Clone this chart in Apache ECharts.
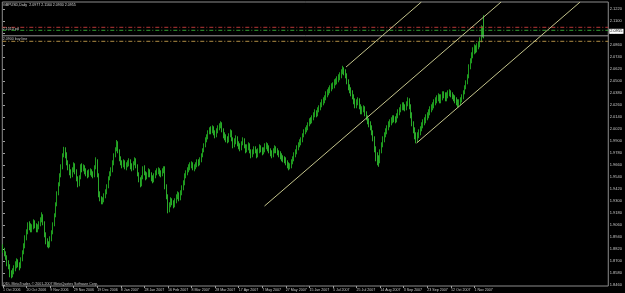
<!DOCTYPE html>
<html><head><meta charset="utf-8">
<script src="https://cdn.jsdelivr.net/npm/echarts@6/dist/echarts.min.js"></script>
<style>html,body{margin:0;padding:0;background:#000;}#c{width:625px;height:293px;}</style>
</head><body><div id="c"></div>
<script>
// ---- data ----
const symbolName = 'GBPUSD,Daily';
const copyrightText = 'ODL MetaTrader, \u00a9 2001-2007 MetaQuotes Software Corp.';
const startDate = [2006, 9, 1];   // 1 Oct 2006, Sunday bars included, Saturdays skipped
const futureBars = 89;            // empty shift area on the right
const firstOpen = 1.8840;
const closes = [
1.8810,1.8775,1.8740,1.8680,1.8655,1.8580,1.8560,1.8595,1.8620,1.8660,
1.8695,1.8670,1.8650,1.8720,1.8790,1.8850,1.8940,1.8990,1.9060,1.9050,
1.9020,1.9045,1.9090,1.9060,1.9015,1.9040,1.9080,1.9110,1.9150,1.9080,
1.8960,1.8900,1.8870,1.8855,1.8920,1.8990,1.9070,1.9160,1.9270,1.9380,
1.9470,1.9560,1.9640,1.9760,1.9820,1.9760,1.9680,1.9640,1.9590,1.9560,
1.9610,1.9660,1.9600,1.9530,1.9470,1.9540,1.9650,1.9620,1.9640,1.9600,
1.9580,1.9560,1.9590,1.9600,1.9570,1.9550,1.9640,1.9710,1.9560,1.9370,
1.9330,1.9290,1.9310,1.9360,1.9390,1.9450,1.9530,1.9570,1.9610,1.9680,
1.9760,1.9820,1.9880,1.9800,1.9720,1.9690,1.9660,1.9690,1.9640,1.9660,
1.9680,1.9700,1.9650,1.9630,1.9680,1.9710,1.9650,1.9570,1.9520,1.9470,
1.9540,1.9630,1.9580,1.9540,1.9560,1.9600,1.9570,1.9530,1.9510,1.9550,
1.9580,1.9600,1.9610,1.9580,1.9570,1.9600,1.9630,1.9440,1.9350,1.9220,
1.9260,1.9310,1.9290,1.9260,1.9300,1.9350,1.9370,1.9330,1.9380,1.9430,
1.9480,1.9560,1.9580,1.9610,1.9640,1.9660,1.9670,1.9630,1.9640,1.9660,
1.9690,1.9680,1.9710,1.9760,1.9810,1.9860,1.9910,1.9940,1.9990,2.0010,
2.0000,2.0030,1.9990,1.9960,2.0000,2.0030,2.0050,2.0070,2.0010,1.9960,
1.9940,1.9920,1.9910,1.9960,1.9990,1.9920,1.9860,1.9900,1.9930,1.9880,
1.9850,1.9830,1.9880,1.9910,1.9850,1.9810,1.9840,1.9860,1.9800,1.9760,
1.9790,1.9830,1.9800,1.9760,1.9800,1.9840,1.9820,1.9790,1.9810,1.9850,
1.9860,1.9830,1.9810,1.9780,1.9760,1.9800,1.9830,1.9810,1.9790,1.9770,
1.9750,1.9730,1.9720,1.9710,1.9690,1.9660,1.9640,1.9650,1.9690,1.9720,
1.9760,1.9790,1.9840,1.9860,1.9890,1.9910,1.9960,1.9990,2.0010,2.0030,
2.0070,2.0110,2.0100,2.0130,2.0160,2.0190,2.0170,2.0210,2.0230,2.0260,
2.0290,2.0310,2.0330,2.0370,2.0390,2.0410,2.0430,2.0450,2.0460,2.0490,
2.0500,2.0520,2.0540,2.0560,2.0590,2.0610,2.0600,2.0560,2.0500,2.0440,
2.0410,2.0380,2.0350,2.0300,2.0260,2.0290,2.0310,2.0250,2.0200,2.0220,
2.0230,2.0180,2.0140,2.0100,2.0070,2.0040,1.9990,1.9930,1.9820,1.9760,
1.9720,1.9700,1.9800,1.9860,1.9920,1.9960,2.0000,2.0030,2.0070,2.0090,
2.0110,2.0130,2.0120,2.0110,2.0150,2.0190,2.0210,2.0240,2.0260,2.0240,
2.0230,2.0270,2.0310,2.0250,2.0160,2.0080,2.0010,1.9960,1.9910,1.9960,
1.9990,2.0020,2.0060,2.0090,2.0110,2.0140,2.0160,2.0190,2.0220,2.0240,
2.0260,2.0290,2.0310,2.0330,2.0350,2.0310,2.0340,2.0370,2.0360,2.0330,
2.0360,2.0380,2.0390,2.0370,2.0350,2.0330,2.0310,2.0290,2.0270,2.0290,
2.0310,2.0340,2.0390,2.0440,2.0490,2.0550,2.0650,2.0700,2.0760,2.0800,
2.0830,2.0810,2.0850,2.0870,2.0900,2.1010,2.0977,2.0955];
const highs = [
1.8870,1.8835,1.8800,1.8760,1.8710,1.8670,1.8610,1.8630,1.8660,1.8700,
1.8730,1.8720,1.8690,1.8740,1.8810,1.8880,1.8960,1.9020,1.9090,1.9100,
1.9080,1.9070,1.9120,1.9110,1.9080,1.9070,1.9100,1.9140,1.9190,1.9170,
1.9100,1.8990,1.8930,1.8900,1.8950,1.9010,1.9090,1.9180,1.9290,1.9400,
1.9490,1.9580,1.9670,1.9780,1.9845,1.9840,1.9790,1.9710,1.9670,1.9620,
1.9640,1.9690,1.9680,1.9620,1.9550,1.9560,1.9670,1.9680,1.9670,1.9660,
1.9630,1.9610,1.9620,1.9630,1.9620,1.9600,1.9660,1.9740,1.9720,1.9580,
1.9400,1.9350,1.9340,1.9380,1.9420,1.9470,1.9550,1.9600,1.9640,1.9710,
1.9780,1.9840,1.9913,1.9900,1.9820,1.9750,1.9710,1.9720,1.9710,1.9690,
1.9710,1.9730,1.9720,1.9680,1.9700,1.9740,1.9730,1.9670,1.9590,1.9540,
1.9560,1.9650,1.9660,1.9600,1.9590,1.9630,1.9620,1.9590,1.9560,1.9580,
1.9610,1.9630,1.9640,1.9630,1.9610,1.9630,1.9650,1.9650,1.9470,1.9370,
1.9290,1.9340,1.9330,1.9310,1.9330,1.9370,1.9400,1.9390,1.9410,1.9460,
1.9510,1.9580,1.9610,1.9640,1.9670,1.9690,1.9700,1.9690,1.9670,1.9690,
1.9720,1.9720,1.9740,1.9780,1.9830,1.9880,1.9940,1.9970,2.0010,2.0040,
2.0050,2.0060,2.0050,2.0010,2.0030,2.0060,2.0080,2.0100,2.0090,2.0030,
1.9990,1.9970,1.9950,1.9980,2.0020,2.0010,1.9940,1.9930,1.9960,1.9950,
1.9900,1.9880,1.9900,1.9940,1.9930,1.9870,1.9870,1.9890,1.9880,1.9820,
1.9820,1.9850,1.9850,1.9820,1.9830,1.9870,1.9860,1.9840,1.9840,1.9880,
1.9890,1.9880,1.9860,1.9830,1.9810,1.9830,1.9860,1.9850,1.9830,1.9810,
1.9800,1.9780,1.9760,1.9750,1.9740,1.9710,1.9690,1.9680,1.9720,1.9750,
1.9790,1.9820,1.9860,1.9890,1.9920,1.9940,1.9980,2.0020,2.0040,2.0060,
2.0090,2.0130,2.0140,2.0160,2.0190,2.0220,2.0210,2.0240,2.0260,2.0290,
2.0320,2.0340,2.0360,2.0400,2.0420,2.0440,2.0460,2.0480,2.0490,2.0520,
2.0530,2.0550,2.0570,2.0590,2.0620,2.0655,2.0640,2.0620,2.0580,2.0520,
2.0470,2.0440,2.0410,2.0370,2.0330,2.0320,2.0340,2.0330,2.0270,2.0250,
2.0260,2.0250,2.0200,2.0160,2.0130,2.0100,2.0060,2.0010,1.9950,1.9850,
1.9790,1.9760,1.9820,1.9890,1.9950,1.9990,2.0030,2.0060,2.0100,2.0120,
2.0140,2.0160,2.0160,2.0150,2.0180,2.0220,2.0240,2.0270,2.0290,2.0290,
2.0270,2.0300,2.0340,2.0330,2.0270,2.0190,2.0100,2.0040,1.9990,1.9990,
2.0020,2.0050,2.0090,2.0120,2.0140,2.0170,2.0190,2.0220,2.0250,2.0270,
2.0290,2.0320,2.0340,2.0360,2.0380,2.0370,2.0370,2.0400,2.0400,2.0390,
2.0390,2.0410,2.0420,2.0410,2.0390,2.0370,2.0360,2.0340,2.0320,2.0320,
2.0340,2.0370,2.0410,2.0460,2.0510,2.0570,2.0670,2.0730,2.0790,2.0840,
2.0870,2.0860,2.0880,2.0900,2.0940,2.1060,2.1050,2.1160];
const lows = [
1.8785,1.8750,1.8715,1.8650,1.8620,1.8540,1.8530,1.8540,1.8570,1.8600,
1.8630,1.8640,1.8610,1.8630,1.8700,1.8770,1.8830,1.8910,1.8970,1.9010,
1.8990,1.8990,1.9020,1.9030,1.8990,1.8990,1.9020,1.9050,1.9090,1.9060,
1.8940,1.8870,1.8840,1.8830,1.8840,1.8900,1.8970,1.9050,1.9140,1.9250,
1.9360,1.9450,1.9540,1.9620,1.9740,1.9730,1.9660,1.9610,1.9560,1.9530,
1.9540,1.9590,1.9570,1.9500,1.9440,1.9450,1.9520,1.9590,1.9600,1.9570,
1.9550,1.9530,1.9540,1.9560,1.9545,1.9530,1.9540,1.9620,1.9540,1.9340,
1.9300,1.9270,1.9270,1.9290,1.9330,1.9370,1.9430,1.9510,1.9550,1.9590,
1.9660,1.9740,1.9800,1.9780,1.9700,1.9660,1.9630,1.9640,1.9620,1.9610,
1.9640,1.9650,1.9620,1.9600,1.9610,1.9660,1.9630,1.9550,1.9490,1.9440,
1.9450,1.9520,1.9560,1.9510,1.9520,1.9540,1.9540,1.9500,1.9480,1.9490,
1.9530,1.9560,1.9570,1.9550,1.9540,1.9550,1.9580,1.9420,1.9320,1.9180,
1.9190,1.9240,1.9260,1.9230,1.9240,1.9280,1.9320,1.9300,1.9310,1.9360,
1.9410,1.9460,1.9530,1.9560,1.9590,1.9610,1.9630,1.9610,1.9600,1.9620,
1.9640,1.9650,1.9660,1.9690,1.9740,1.9790,1.9840,1.9890,1.9920,1.9970,
1.9970,1.9980,1.9960,1.9930,1.9940,1.9980,2.0010,2.0030,1.9990,1.9930,
1.9910,1.9890,1.9880,1.9890,1.9940,1.9900,1.9830,1.9840,1.9870,1.9850,
1.9820,1.9800,1.9810,1.9860,1.9830,1.9780,1.9790,1.9810,1.9780,1.9730,
1.9740,1.9770,1.9780,1.9730,1.9740,1.9780,1.9790,1.9760,1.9770,1.9790,
1.9820,1.9800,1.9780,1.9750,1.9730,1.9740,1.9780,1.9780,1.9760,1.9740,
1.9720,1.9700,1.9690,1.9680,1.9660,1.9630,1.9610,1.9620,1.9630,1.9670,
1.9700,1.9740,1.9770,1.9810,1.9840,1.9860,1.9890,1.9940,1.9970,1.9990,
2.0010,2.0050,2.0070,2.0080,2.0110,2.0140,2.0140,2.0150,2.0190,2.0210,
2.0240,2.0260,2.0280,2.0310,2.0340,2.0360,2.0380,2.0400,2.0420,2.0430,
2.0460,2.0470,2.0490,2.0510,2.0530,2.0570,2.0560,2.0530,2.0470,2.0410,
2.0380,2.0350,2.0320,2.0270,2.0230,2.0230,2.0260,2.0220,2.0170,2.0170,
2.0190,2.0150,2.0110,2.0070,2.0040,2.0010,1.9960,1.9900,1.9790,1.9700,
1.9660,1.9645,1.9680,1.9780,1.9840,1.9890,1.9940,1.9970,2.0010,2.0040,
2.0060,2.0080,2.0090,2.0080,2.0090,2.0130,2.0160,2.0190,2.0210,2.0210,
2.0200,2.0210,2.0250,2.0220,2.0130,2.0050,1.9980,1.9920,1.9880,1.9890,
1.9930,1.9960,2.0000,2.0030,2.0060,2.0080,2.0110,2.0130,2.0160,2.0190,
2.0210,2.0230,2.0260,2.0280,2.0300,2.0280,2.0280,2.0310,2.0330,2.0300,
2.0300,2.0330,2.0350,2.0340,2.0320,2.0300,2.0280,2.0260,2.0240,2.0240,
2.0260,2.0290,2.0320,2.0370,2.0420,2.0470,2.0530,2.0620,2.0680,2.0730,
2.0770,2.0780,2.0790,2.0820,2.0840,2.0890,2.0940,2.0930];
const priceTicks = [1.8460,1.8580,1.8700,1.8820,1.8940,1.9060,1.9180,1.9300,1.9420,1.9540,1.9660,1.9780,
                    1.9900,2.0020,2.0140,2.0260,2.0380,2.0500,2.0620,2.0740,2.0860,2.0980,2.1100,2.1220];
const priceMin = 1.8453, priceMax = 2.1293;
const labelEvery = 17;
const lastQuote = [2.0977, 2.1160, 2.0930, 2.0955]; // O H L C of last bar
const levelValues = [2.1040, 2.1010, 2.0900];
const levelColors = ['#b83838', '#34a034', '#b08c44'];
const levelTexts = ['', '2.1010 pd', '2.0900 buy line'];
// trend lines: [bar index, price] pairs
const trendLines = [
  [[188.6, 1.9253], [359.2, 2.1293]],
  [[247.4, 2.0643], [301.7, 2.1293]],
  [[298.3, 1.9883], [416.2, 2.1293]]
];

// ---- build ----
const N = closes.length;
const opens = [firstOpen].concat(closes.slice(0, N - 1));
const mon = ['Jan','Feb','Mar','Apr','May','Jun','Jul','Aug','Sep','Oct','Nov','Dec'];
const dates = [];
let t = Date.UTC(startDate[0], startDate[1], startDate[2]);
while (dates.length < N + futureBars) {
  const d = new Date(t);
  if (d.getUTCDay() !== 6) dates.push(d.getUTCDate() + ' ' + mon[d.getUTCMonth()] + ' ' + d.getUTCFullYear());
  t += 86400000;
}
const M = dates.length;
const candles = opens.map((o, i) => [o, closes[i], lows[i], highs[i]]);
const showIdx = (i) => i % labelEvery === 0 && i < N;
const FONT = 'Liberation Sans';
const TXT = '#c8c8c8';
const CLEAR = { color: 'rgba(0,0,0,0)', width: 0, type: 'solid' };

const levelSeries = levelValues.map((v, i) => ({
  type: 'line', xAxisIndex: 1, yAxisIndex: 0, silent: true, showSymbol: false, z: 3,
  data: [[-0.5, v], [M - 0.5, v]],
  lineStyle: { color: levelColors[i], type: [4, 2, 1, 2], width: 1 }
}));
// label-only mark lines (descriptions at the left and the bid box at the right)
const labelMarks = levelValues.map((v, i) => levelTexts[i] ? {
  yAxis: v, lineStyle: CLEAR,
  label: { show: true, position: 'insideStartTop', formatter: levelTexts[i], fontSize: 3.6,
    fontFamily: FONT, color: TXT, distance: 0.5 }
} : null).filter(Boolean);
labelMarks.push({
  yAxis: lastQuote[3], lineStyle: CLEAR,
  label: { show: true, position: 'end', formatter: lastQuote[3].toFixed(4), backgroundColor: '#ffffff',
    color: '#000', fontSize: 4, fontFamily: FONT, padding: [0.5, 1], distance: 1 }
});
const bidSeries = {
  type: 'line', xAxisIndex: 1, yAxisIndex: 0, silent: true, showSymbol: false, z: 3,
  data: [[-0.5, lastQuote[3]], [M - 0.5, lastQuote[3]]],
  lineStyle: { color: '#9a9a9a', width: 1 }
};

const chart = echarts.init(document.getElementById('c'), null, { renderer: 'canvas', width: 625, height: 293 });
chart.setOption({
  backgroundColor: '#000',
  animation: false,
  grid: { left: 1.3, right: 14, top: 2, bottom: 7, show: true, borderColor: '#8c8c8c', borderWidth: 1, backgroundColor: 'transparent' },
  xAxis: [{
    type: 'category', data: dates, boundaryGap: true,
    axisLine: { show: false },
    axisTick: { show: true, interval: showIdx, alignWithLabel: true, length: 2, lineStyle: { color: '#a0a0a0' } },
    axisLabel: { interval: showIdx, fontSize: 3.6, fontFamily: FONT, color: TXT, align: 'left', margin: 1.5 },
    splitLine: { show: false }
  }, {
    type: 'value', min: -0.5, max: M - 0.5, show: false
  }],
  yAxis: {
    type: 'value', position: 'right', min: priceMin, max: priceMax,
    axisLine: { show: false },
    axisTick: { show: true, customValues: priceTicks, length: 2, lineStyle: { color: '#a0a0a0' } },
    axisLabel: { customValues: priceTicks, formatter: (v) => v.toFixed(4), fontSize: 4, fontFamily: FONT, color: TXT, margin: 1.5 },
    splitLine: { show: false }
  },
  series: [{
    type: 'candlestick', data: candles, barWidth: 1, z: 2,
    itemStyle: { color: '#0d6e0d', borderColor: '#1e9a1e', color0: '#e6ffe6', borderColor0: '#2aa82a', borderWidth: 1 },
    markLine: { symbol: 'none', silent: true, animation: false, data: labelMarks }
  }].concat(levelSeries, [bidSeries], trendLines.map(seg => ({
    type: 'line', xAxisIndex: 1, yAxisIndex: 0, data: seg, showSymbol: false, silent: true, z: 4,
    lineStyle: { color: '#c4c48c', width: 1 }
  }))),
  graphic: [
    { type: 'text', left: 3, top: 2.5, style: { text: symbolName + '  ' + lastQuote.map(v => v.toFixed(4)).join(' '), fill: '#d8d8d8', fontSize: 3.6, fontFamily: FONT } },
    { type: 'text', left: 3, top: 281.5, style: { text: copyrightText, fill: TXT, fontSize: 3.6, fontFamily: FONT } }
  ]
});
</script></body></html>
